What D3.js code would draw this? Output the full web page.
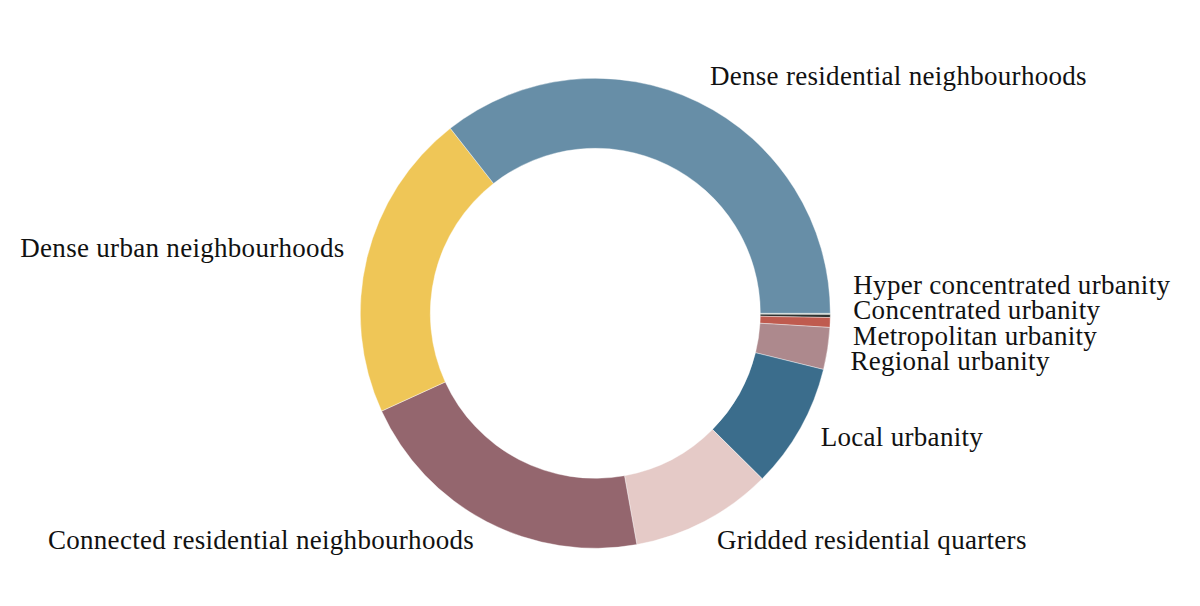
<!DOCTYPE html>
<html><head><meta charset="utf-8">
<script src="https://cdn.jsdelivr.net/npm/d3@7"></script>
<style>body{margin:0;background:#fff;overflow:hidden}</style>
</head><body><svg id="c" width="1200" height="606"></svg>
<script>
const categories = [
  "Hyper concentrated urbanity",
  "Concentrated urbanity",
  "Metropolitan urbanity",
  "Regional urbanity",
  "Local urbanity",
  "Gridded residential quarters",
  "Connected residential neighbourhoods",
  "Dense urban neighbourhoods",
  "Dense residential neighbourhoods"
];
const shares = [0.08, 0.21, 0.67, 2.88, 8.59, 9.74, 21.0, 21.25, 35.58];
const colors = ["#b7c3b1", "#2f3331", "#bf5b4f", "#ad898d", "#3b6d8c", "#e5cac7", "#94666e", "#efc657", "#678ea7"];

const data = categories.map((c, i) => ({name: c, value: shares[i], color: colors[i]}));

const svg = d3.select("#c");
const cx = 595.3, cy = 313.3, R = 235, r0 = 165;
const g = svg.append("g").attr("transform", `translate(${cx},${cy})`);

const pie = d3.pie().sort(null).value(d => d.value)
  .startAngle(Math.PI / 2).endAngle(Math.PI / 2 + 2 * Math.PI);
const arc = d3.arc().innerRadius(r0).outerRadius(R);
const arcs = pie(data);

g.selectAll("path").data(arcs).join("path")
  .attr("d", arc)
  .attr("fill", d => d.data.color)
  .attr("stroke", "#fff")
  .attr("stroke-width", 0.4);

// label placement
const rl = R + 20;
const labels = arcs.map(d => {
  const a = (d.startAngle + d.endAngle) / 2;
  const dx = Math.sin(a), dy = -Math.cos(a);
  const px = rl * dx + (dx >= 0 ? 3 : -3), py = rl * dy;
  const y0 = py + 5.5 + 5 * dy;
  return {name: d.data.name, right: dx >= 0, x: px, y: y0, y0};
});

const spacing = 25.2;
[true, false].forEach(side => {
  const L = labels.filter(l => l.right === side).sort((a, b) => a.y0 - b.y0);
  let clusters = L.map(l => [l]);
  let changed = true;
  while (changed) {
    changed = false;
    clusters.forEach(c => {
      const mean = d3.mean(c, l => l.y0);
      c.forEach((l, i) => l.y = mean + (i - (c.length - 1) / 2) * spacing);
    });
    for (let i = 0; i < clusters.length - 1; i++) {
      const a = clusters[i], b = clusters[i + 1];
      if (b[0].y - a[a.length - 1].y < spacing) {
        clusters.splice(i, 2, a.concat(b));
        changed = true;
        break;
      }
    }
  }
});

g.selectAll("text").data(labels).join("text")
  .attr("x", d => d.x)
  .attr("y", d => d.y)
  .attr("text-anchor", d => d.right ? "start" : "end")
  .attr("font-family", "'Liberation Serif', 'Times New Roman', serif")
  .attr("font-size", 27)
  .attr("letter-spacing", 0.3)
  .attr("fill", "#111")
  .text(d => d.name);
</script></body></html>
